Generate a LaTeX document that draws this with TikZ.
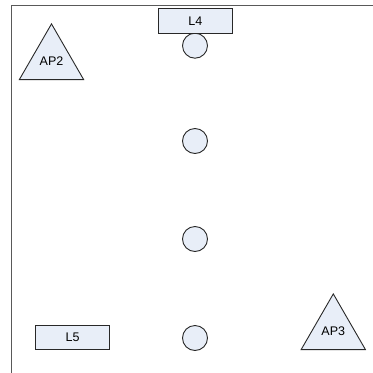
\documentclass[tikz,border=0pt]{standalone}
\usepackage{fontspec}
\setmainfont{Liberation Sans}
\usetikzlibrary{shapes.geometric}
\definecolor{boxfill}{RGB}{232,238,248}
\definecolor{edge}{RGB}{40,40,40}
\begin{document}
\begin{tikzpicture}[x=1pt,y=-1pt,
  every node/.style={font=\fontsize{12.5}{14}\selectfont},
  labelbox/.style={draw=edge,fill=boxfill,line width=0.9pt,minimum width=74pt,minimum height=24.5pt,inner sep=0pt},
  spot/.style={circle,draw=edge,fill=boxfill,line width=0.9pt,minimum size=25pt,inner sep=0pt},
  apnode/.style={regular polygon,regular polygon sides=3,draw=edge,fill=boxfill,line width=0.9pt,minimum size=74.2pt,inner sep=0pt}]
\useasboundingbox (0,0) rectangle (373,373);
\draw[line width=1pt,color=gray!70!black] (373,5.5) -- (11.5,5.5) -- (11.5,373);
\node[apnode] (ap2) at (51.5,61) {AP2};
\node[apnode] (ap3) at (333.3,331) {AP3};
\node[spot] (c1) at (195,45.7) {};
\node[labelbox] (l4) at (195.3,20.8) {L4};
\node[spot] (c2) at (195,141) {};
\node[spot] (c3) at (195,239) {};
\node[spot] (c4) at (195,338) {};
\node[labelbox] (l5) at (72.6,337.2) {L5};
\end{tikzpicture}
\end{document}
